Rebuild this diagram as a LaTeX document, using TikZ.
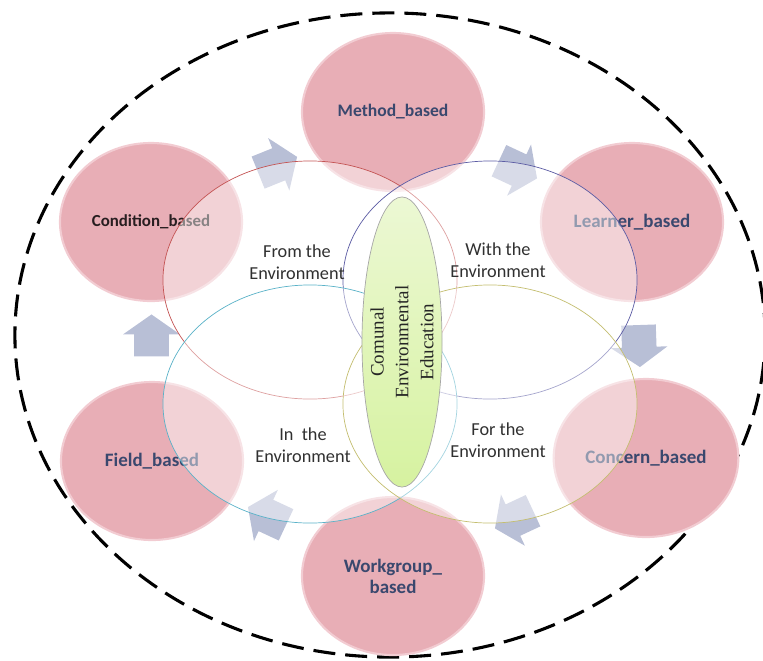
\documentclass[tikz,border=0pt]{standalone}
\usepackage{fontspec}
\setmainfont{Carlito}
\newfontfamily\serifface{Liberation Serif}
\usepackage{tikz}
\usetikzlibrary{shapes, arrows, calc}
\definecolor{pinkfill}{RGB}{232,174,182}
\definecolor{pinkrim}{RGB}{242,204,210}
\definecolor{labelblue}{RGB}{58,72,110}
\definecolor{conditiontext}{RGB}{40,30,32}
\definecolor{arrowgray}{RGB}{184,191,214}
\definecolor{ringred}{RGB}{196,84,84}
\definecolor{ringblue}{RGB}{92,92,164}
\definecolor{ringcyan}{RGB}{90,178,200}
\definecolor{ringolive}{RGB}{196,190,112}
\definecolor{corelight}{RGB}{236,248,212}
\definecolor{coregreen}{RGB}{214,242,160}
\definecolor{captiongray}{RGB}{48,48,48}
\tikzstyle{frameline} = [ellipse, draw, line width=2.2pt, dash pattern=on 0.55cm off 0.25cm, minimum width=18.75cm, minimum height=16.1cm]
\tikzstyle{phase} = [ellipse, draw=pinkrim, line width=1.5pt, fill=pinkfill, text centered, minimum width=4.55cm, minimum height=3.95cm, text=labelblue, font=\bfseries\fontsize{13.5}{15}\selectfont]
\tikzstyle{flow} = [single arrow, draw=none, fill=arrowgray, inner xsep=0pt, inner ysep=0.425cm, minimum height=1.05cm, single arrow head extend=0.275cm, single arrow tip angle=110]
\tikzstyle{ring} = [ellipse, draw, line width=0.5pt, fill=white, fill opacity=0.45, minimum width=7.35cm, minimum height=5.95cm]
\tikzstyle{core} = [ellipse, draw=gray!70, line width=0.5pt, top color=corelight, bottom color=coregreen, minimum width=2cm, minimum height=7.25cm, inner sep=0pt]
\tikzstyle{coretext} = [rotate=90, align=center, text=black!85, font=\serifface\fontsize{13.5}{17.7}\selectfont]
\tikzstyle{caption} = [align=center, text=captiongray, font=\fontsize{13}{16}\selectfont]

\begin{document}
\begin{tikzpicture}[x=0.025cm, y=-0.025cm]
        \useasboundingbox (0,0) rectangle (763,660);
        \node [frameline] (frame) at (390,335) {};
        
        \node [phase, font=\bfseries\fontsize{12.5}{14}\selectfont] (method) at (393,112) {Method\_based};
        \node [phase] (learner) at (632,222) {Learner\_based};
        \node [phase] (concern) at (646,458) {Concern\_based};
        \node [phase, align=center] (workgroup) at (393,576) {Workgroup\_\\based};
        \node [phase] (field) at (152,461) {Field\_based};
        \node [phase, text=conditiontext, font=\bfseries\fontsize{12}{14}\selectfont] (condition) at (151,222) {Condition\_based};
        
        \node [flow, rotate=22] (flowa) at ($(condition)!0.5!(method)$) {};
        \node [flow, rotate=-25] (flowb) at ($(method)!0.5!(learner)$) {};
        \node [flow, rotate=-88] (flowc) at ($(learner)!0.5!(concern)$) {};
        \node [flow, rotate=205] (flowd) at ($(concern)!0.5!(workgroup)$) {};
        \node [flow, rotate=155] (flowe) at ($(workgroup)!0.5!(field)$) {};
        \node [flow, rotate=90] (flowf) at ($(field)!0.5!(condition)$) {};
        
        \node [ring, draw=ringred] (fromring) at (310,280) {};
        \node [ring, draw=ringblue] (withring) at (490,280) {};
        \node [ring, draw=ringcyan] (inring) at (310,404) {};
        \node [ring, draw=ringolive] (forring) at (490,404) {};
        
        \node [core] (cee) at (402,342) {};
        \node [coretext] (ceetext) at (cee.center) {Comunal\\Environmental\\Education};
        
        \node [caption] (fromtext) at (297,262) {From the\\Environment};
        \node [caption] (withtext) at (498,260) {With the\\Environment};
        \node [caption] (intext) at (303,445) {In\ \ the\\Environment};
        \node [caption] (fortext) at (498,440) {For the\\Environment};
    \end{tikzpicture}
\end{document}
